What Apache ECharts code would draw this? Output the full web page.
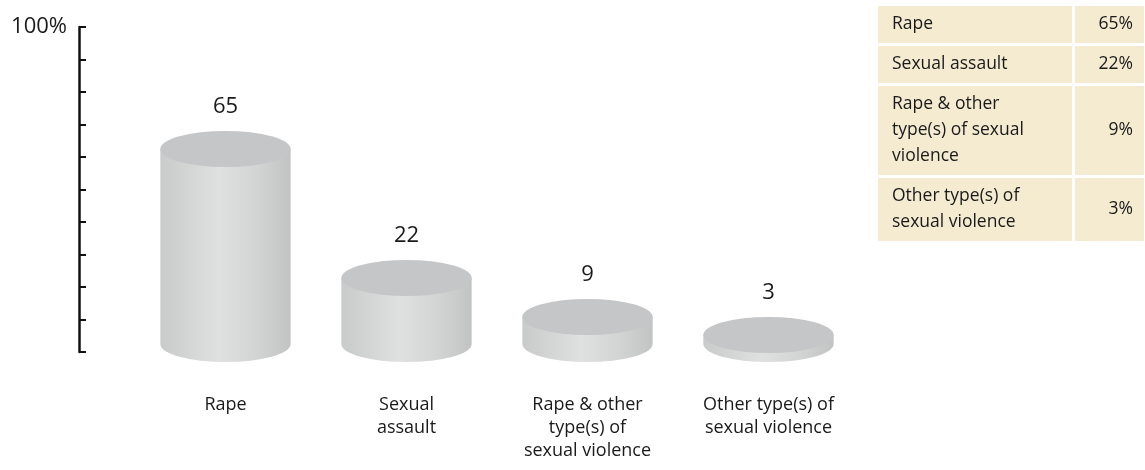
<!DOCTYPE html>
<html>
<head>
<meta charset="utf-8">
<script src="https://cdn.jsdelivr.net/npm/echarts@6/dist/echarts.min.js"></script>
<style>
html,body{margin:0;padding:0;background:#fff;}
#chart{width:1145px;height:470px;}
</style>
</head>
<body>
<div id="chart"></div>
<script>
// ---- data ----
const categories = ['Rape', 'Sexual assault', 'Rape & other type(s) of sexual violence', 'Other type(s) of sexual violence'];
const axisLabels = ['Rape', 'Sexual\nassault', 'Rape & other\ntype(s) of\nsexual violence', 'Other type(s) of\nsexual violence'];
const values = [65, 22, 9, 3];
const tableLabels = ['Rape', 'Sexual assault', 'Rape & other\ntype(s) of sexual\nviolence', 'Other type(s) of\nsexual violence'];
const tableValues = ['65%', '22%', '9%', '3%'];
const yTickTop = '100%';

const FONT = '"Open Sans", "Noto Sans", sans-serif';
const chart = echarts.init(document.getElementById('chart'));

// table graphics
const tableGraphics = [];
(function () {
  const x0 = 878, w1 = 194, gap = 3, w2 = 69;
  let y = 6;
  tableLabels.forEach(function (lab, i) {
    const lines = lab.split('\n').length;
    const h = 11 + 26 * lines;
    tableGraphics.push({ type: 'rect', left: x0, top: y, shape: { width: w1, height: h }, style: { fill: '#f4ebd1' } });
    tableGraphics.push({ type: 'rect', left: x0 + w1 + gap, top: y, shape: { width: w2, height: h }, style: { fill: '#f4ebd1' } });
    tableGraphics.push({ type: 'text', x: x0 + 14, y: y + h / 2, style: { text: lab, font: '17.5px ' + FONT, fill: '#1a1a1a', lineHeight: 26, verticalAlign: 'middle', align: 'left' } });
    tableGraphics.push({ type: 'text', x: x0 + w1 + gap + w2 - 11, y: y + h / 2, style: { text: tableValues[i], font: '17.5px ' + FONT, fill: '#1a1a1a', verticalAlign: 'middle', align: 'right' } });
    y += h + gap;
  });
})();

function renderCylinder(params, api) {
  const cat = api.value(0);
  const v = api.value(1);
  const top = api.coord([cat, v]);
  const base = api.coord([cat, 0]);
  const w = api.size([1, 0])[0] * 0.72;
  const rx = w / 2, ry = 18;
  const cx = top[0];
  const l = cx - rx, r = cx + rx;
  const ty = top[1], by = base[1];
  const sideGrad = new echarts.graphic.LinearGradient(0, 0, 1, 0, [
    { offset: 0, color: '#c9caca' },
    { offset: 0.45, color: '#dfe0e0' },
    { offset: 0.75, color: '#d2d3d3' },
    { offset: 1, color: '#c2c3c3' }
  ]);
  return {
    type: 'group',
    children: [
      {
        type: 'path',
        shape: { pathData: 'M ' + l + ' ' + ty + ' L ' + l + ' ' + by + ' A ' + rx + ' ' + ry + ' 0 0 0 ' + r + ' ' + by + ' L ' + r + ' ' + ty + ' Z' },
        style: { fill: sideGrad }
      },
      {
        type: 'circle',
        x: cx, y: ty, scaleY: ry / rx,
        shape: { cx: 0, cy: 0, r: rx },
        style: { fill: '#c5c6c7' }
      },
      {
        type: 'text',
        x: cx, y: ty - 42,
        style: { text: String(v), font: '22px ' + FONT, fill: '#1a1a1a', align: 'center', verticalAlign: 'middle' }
      }
    ]
  };
}

const option = {
  animation: false,
  backgroundColor: '#fff',
  textStyle: { fontFamily: FONT },
  grid: [
    { left: 79, top: 27, bottom: 118, width: 10 },
    { left: 135, right: 286, top: 44, bottom: 126 }
  ],
  xAxis: [
    { type: 'value', gridIndex: 0, show: false },
    {
      type: 'category', gridIndex: 1, data: axisLabels,
      axisLine: { show: false }, axisTick: { show: false },
      axisLabel: { margin: 49, fontSize: 18, lineHeight: 23, color: '#1a1a1a', fontFamily: FONT, verticalAlign: 'top', interval: 0 }
    }
  ],
  yAxis: [
    {
      type: 'value', gridIndex: 0, min: 0, max: 100, interval: 10,
      axisLine: { show: true, lineStyle: { color: '#111', width: 2.5 } },
      axisTick: { show: true, inside: true, length: 7, lineStyle: { color: '#111', width: 2 } },
      splitLine: { show: false },
      axisLabel: {
        margin: 12, fontSize: 22, color: '#1a1a1a', fontFamily: FONT,
        formatter: function (v) { return v === 100 ? yTickTop : ''; }
      }
    },
    { type: 'value', gridIndex: 1, min: 0, max: 100, show: false }
  ],
  series: [
    {
      type: 'custom',
      xAxisIndex: 1, yAxisIndex: 1,
      renderItem: renderCylinder,
      data: values.map(function (v, i) { return [i, v]; })
    }
  ],
  graphic: tableGraphics
};
chart.setOption(option);
</script>
</body>
</html>
